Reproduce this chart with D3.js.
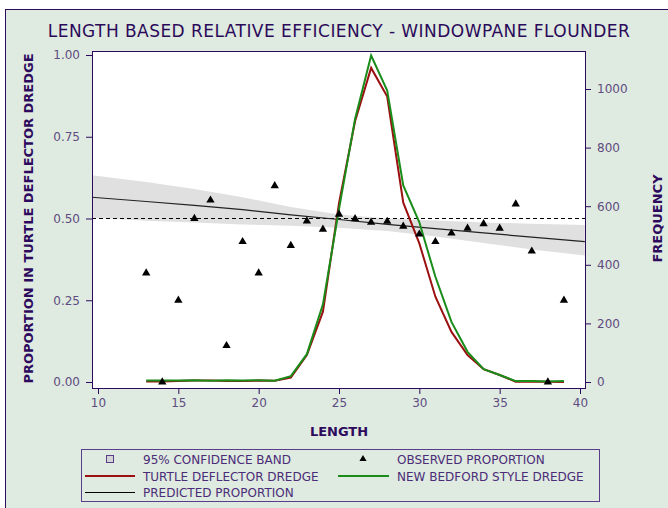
<!DOCTYPE html>
<html>
<head>
<meta charset="utf-8">
<script src="https://cdn.jsdelivr.net/npm/d3@7"></script>
<style>
  body { margin: 0; background: #ffffff; }
  svg text { font-family: "DejaVu Sans", Verdana, sans-serif; }
</style>
</head>
<body>
<div id="chart"></div>
<script>
// lengths where proportion / frequencies were observed
var lengths = [13, 14, 15, 16, 17, 18, 19, 20, 21, 22, 23, 24, 25, 26, 27, 28, 29, 30, 31, 32, 33, 34, 35, 36, 37, 38, 39];
var observed = [0.333, 0, 0.25, 0.5, 0.556, 0.111, 0.429, 0.333, 0.6, 0.417, 0.492, 0.467, 0.513, 0.499, 0.488, 0.491, 0.476, 0.452, 0.429, 0.455, 0.47, 0.484, 0.47, 0.544, 0.4, 0, 0.25];
var turtleFreq = [2, 2, 3, 5, 5, 3, 3, 5, 4, 15, 92, 240, 610, 890, 1072, 974, 612, 473, 291, 171, 92, 44, 24, 1, 2, 1, 0];
var bedfordFreq = [5, 5, 5, 6, 4, 6, 5, 6, 4, 20, 95, 265, 590, 898, 1114, 995, 671, 545, 359, 205, 103, 44, 24, 3, 3, 2, 3];

// predicted proportion and 95% band
var predLength = [9.6, 13, 16, 19, 22, 25, 28, 31, 34, 37, 40.3];
var predicted = [0.565, 0.552, 0.540, 0.527, 0.511, 0.497, 0.482, 0.469, 0.456, 0.443, 0.429];
var bandUpper = [0.632, 0.612, 0.590, 0.565, 0.535, 0.512, 0.500, 0.494, 0.488, 0.484, 0.480];
var bandLower = [0.502, 0.493, 0.488, 0.482, 0.478, 0.472, 0.462, 0.445, 0.425, 0.405, 0.387];

var xTicks = [10, 15, 20, 25, 30, 35, 40];
var yTicks = [0, 0.25, 0.5, 0.75, 1];
var freqTicks = [0, 200, 400, 600, 800, 1000];

var margin = {top: 51, right: 83, bottom: 120, left: 92},
    width = 668 - margin.left - margin.right,
    height = 508 - margin.top - margin.bottom;

var purple = "#2e0a5e", tickText = "#5e4c80";

var root = d3.select("#chart").append("svg")
  .attr("width", 668)
  .attr("height", 508);

// page background + outer border
root.append("rect")
  .attr("x", 5.5).attr("y", 9.5)
  .attr("width", 700).attr("height", 600)
  .attr("fill", "#dfeae0")
  .attr("stroke", purple);

root.append("text")
  .attr("x", 339)
  .attr("y", 37)
  .attr("text-anchor", "middle")
  .style("font-size", "17px")
  .style("letter-spacing", "0.45px")
  .attr("fill", "#2b0a5a")
  .text("LENGTH BASED RELATIVE EFFICIENCY - WINDOWPANE FLOUNDER");

var svg = root.append("g")
  .attr("transform", `translate(${margin.left},${margin.top})`);

// plot area
svg.append("rect")
  .attr("width", width).attr("height", height)
  .attr("fill", "#ffffff");

var x = d3.scaleLinear().domain([10, 40]).range([6, 488]);
var y = d3.scaleLinear().domain([0, 1]).range([331, 4]);
var yFreq = d3.scaleLinear().domain([0, 1000]).range([331, 38]);

var xAt = x.invert(0), xEnd = x.invert(width);

// confidence band
svg.append("path")
  .datum(predLength.map((l, i) => ({l: l, lo: bandLower[i], hi: bandUpper[i]})))
  .attr("fill", "#e0e0e0")
  .attr("d", d3.area()
    .x(d => x(Math.max(xAt, Math.min(xEnd, d.l))))
    .y0(d => y(d.lo))
    .y1(d => y(d.hi)));

// reference line at 0.5
svg.append("line")
  .attr("x1", 0).attr("x2", width)
  .attr("y1", y(0.5)).attr("y2", y(0.5))
  .attr("stroke", "#000")
  .attr("stroke-dasharray", "4,3");

// predicted proportion
svg.append("path")
  .datum(predLength.map((l, i) => [l, predicted[i]]))
  .attr("fill", "none")
  .attr("stroke", "#222")
  .attr("stroke-width", 1.2)
  .attr("d", d3.line()
    .x(d => x(Math.max(xAt, Math.min(xEnd, d[0]))))
    .y(d => y(d[1])));

// frequency lines
var freqLine = d3.line()
  .x(d => x(d[0]))
  .y(d => yFreq(d[1]));

svg.append("path")
  .datum(lengths.map((l, i) => [l, turtleFreq[i]]))
  .attr("fill", "none")
  .attr("stroke", "#9b1010")
  .attr("stroke-width", 2)
  .attr("d", freqLine);

svg.append("path")
  .datum(lengths.map((l, i) => [l, bedfordFreq[i]]))
  .attr("fill", "none")
  .attr("stroke", "#1a8c1a")
  .attr("stroke-width", 2)
  .attr("d", freqLine);

// observed proportions
svg.selectAll(".obs")
  .data(lengths.map((l, i) => [l, observed[i]]))
  .enter().append("path")
  .attr("class", "obs")
  .attr("transform", d => `translate(${x(d[0])},${y(d[1])})`)
  .attr("d", d3.symbol().type(d3.symbolTriangle).size(30))
  .attr("fill", "#000");

// frame
svg.append("rect")
  .attr("x", 0.5).attr("y", 0.5)
  .attr("width", width).attr("height", height)
  .attr("fill", "none")
  .attr("stroke", purple);

// axes
function styleAxis(g) {
  g.select(".domain").remove();
  g.selectAll(".tick line").attr("stroke", purple);
  g.selectAll(".tick text")
    .attr("fill", tickText)
    .style("font-size", "12px");
}

svg.append("g")
  .attr("transform", `translate(0,${height})`)
  .call(d3.axisBottom(x).tickValues(xTicks).tickSize(6).tickPadding(4))
  .call(styleAxis);

svg.append("g")
  .call(d3.axisLeft(y).tickValues(yTicks).tickFormat(d3.format(".2f")).tickSize(6).tickPadding(6))
  .call(styleAxis);

svg.append("g")
  .attr("transform", `translate(${width},0)`)
  .call(d3.axisRight(yFreq).tickValues(freqTicks).tickFormat(d3.format("d")).tickSize(6).tickPadding(6))
  .call(styleAxis);

// axis titles
svg.append("text")
  .attr("x", x(25))
  .attr("y", height + 48)
  .attr("text-anchor", "middle")
  .style("font-size", "13px")
  .style("font-weight", "bold")
  .attr("fill", purple)
  .text("LENGTH");

svg.append("text")
  .attr("transform", "rotate(-90)")
  .attr("x", -(y(0) + y(1)) / 2)
  .attr("y", 28 - margin.left + 5)
  .attr("text-anchor", "middle")
  .style("font-size", "13px")
  .style("font-weight", "bold")
  .attr("fill", purple)
  .text("PROPORTION IN TURTLE DEFLECTOR DREDGE");

svg.append("text")
  .attr("transform", "rotate(-90)")
  .attr("x", -(y(0) + y(1)) / 2)
  .attr("y", 657 - margin.left + 5)
  .attr("text-anchor", "middle")
  .style("font-size", "13px")
  .style("font-weight", "bold")
  .attr("fill", purple)
  .text("FREQUENCY");

// legend
var legend = root.append("g");
legend.append("rect")
  .attr("x", 81.5).attr("y", 449.5)
  .attr("width", 518).attr("height", 52)
  .attr("fill", "none")
  .attr("stroke", "#5a3d8a");

var legText = (lx, ly, t) => legend.append("text")
  .attr("x", lx).attr("y", ly + 4.5)
  .style("font-size", "12px")
  .attr("fill", "#4a2c78")
  .text(t);

legend.append("rect")
  .attr("x", 106.5).attr("y", 455.5)
  .attr("width", 7).attr("height", 7)
  .attr("fill", "#d4d4d4")
  .attr("stroke", "#5a3d8a");
legText(143, 459, "95% CONFIDENCE BAND");

legend.append("path")
  .attr("transform", "translate(363,459)")
  .attr("d", d3.symbol().type(d3.symbolTriangle).size(22))
  .attr("fill", "#000");
legText(397, 459, "OBSERVED PROPORTION");

legend.append("line")
  .attr("x1", 85).attr("x2", 135).attr("y1", 476).attr("y2", 476)
  .attr("stroke", "#9b1010").attr("stroke-width", 2);
legText(143, 476, "TURTLE DEFLECTOR DREDGE");

legend.append("line")
  .attr("x1", 338).attr("x2", 389).attr("y1", 476).attr("y2", 476)
  .attr("stroke", "#1a8c1a").attr("stroke-width", 2);
legText(397, 476, "NEW BEDFORD STYLE DREDGE");

legend.append("line")
  .attr("x1", 85).attr("x2", 135).attr("y1", 492.5).attr("y2", 492.5)
  .attr("stroke", "#000");
legText(143, 492, "PREDICTED PROPORTION");
</script>
</body>
</html>
